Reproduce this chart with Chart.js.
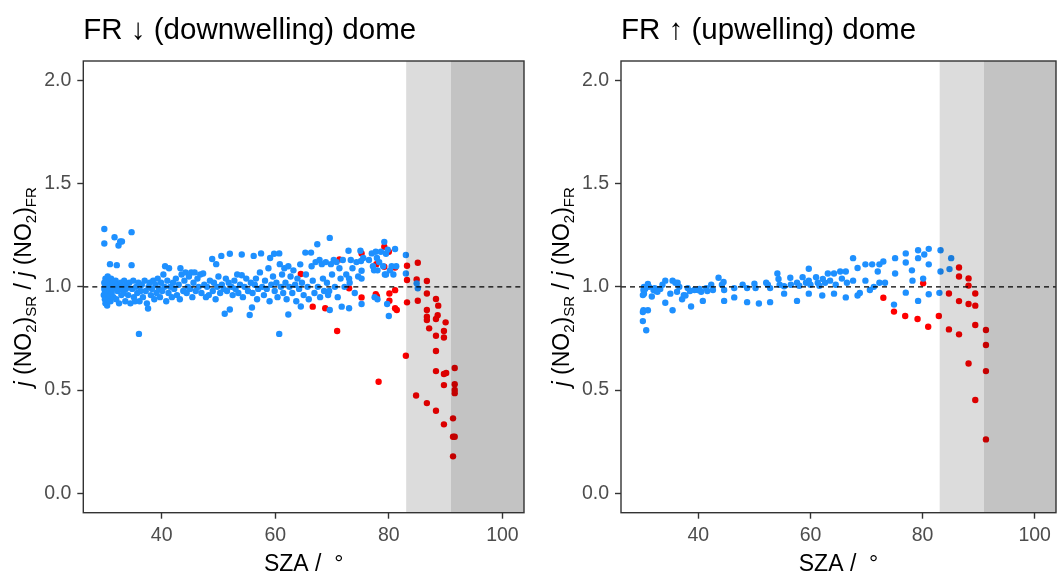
<!DOCTYPE html>
<html>
<head>
<meta charset="utf-8">
<script src="https://cdn.jsdelivr.net/npm/chart.js@4.4.1/dist/chart.umd.min.js"></script>
<style>
body { margin: 0; background: #fff; }
.panel { position: absolute; top: 0; width: 530px; height: 576px; }
</style>
</head>
<body>
<div class="panel" style="left:0"><canvas id="chart-down" width="530" height="576"></canvas></div>
<div class="panel" style="left:530px"><canvas id="chart-up" width="530" height="576"></canvas></div>
<script>
var xTicks = [40, 60, 80, 100];
var yTicks = [0, 0.5, 1.0, 1.5, 2.0];
var xRange = [26.2, 103.8];
var yRange = [-0.094, 2.094];
var shadeStart = [83.05, 90.95];   // SZA where light / dark grey bands start
var refLevel = 1;

var titles = ['FR \u2193 (downwelling) dome', 'FR \u2191 (upwelling) dome'];

// [SZA, ratio] pairs
var downBlue = [
  [29.9,1.28],[29.9,1.21],[29.8,0.96],[29.9,0.99],[29.9,1.02],[30.0,0.94],[30.0,0.97],[30.0,1.00],[30.1,1.04],[30.1,0.92],
  [30.2,0.98],[30.2,1.01],[30.3,0.95],[30.3,1.03],[30.4,0.99],[30.4,0.91],[30.5,0.97],[30.5,1.05],[30.6,1.00],[30.6,0.94],
  [30.7,1.02],[30.8,0.96],[30.9,1.11],[30.9,0.98],[31.0,1.01],[31.0,0.93],[31.1,1.04],[31.2,0.97],[31.3,0.99],[31.4,1.02],
  [31.5,0.95],[31.7,1.24],[31.8,1.00],[31.9,1.03],[32.0,0.94],[32.1,1.105],[32.2,0.98],[32.3,1.01],[32.4,1.20],[32.5,0.92],
  [32.6,0.99],[32.7,1.22],[32.8,1.02],[32.9,0.96],[33.0,1.22],[33.1,1.00],[33.3,0.97],[33.4,1.03],[33.6,0.93],[33.7,0.99],
  [33.9,1.01],[34.1,0.96],[34.3,1.02],[34.5,0.92],[34.7,1.265],[34.7,1.105],[34.8,0.99],[35.0,1.03],[35.1,0.95],[35.3,0.93],
  [35.5,1.00],[35.7,0.97],[35.9,1.02],[36.0,0.772],[36.1,0.93],[36.3,0.98],[36.5,1.01],[36.7,0.95],[37.0,1.03],[37.2,0.98],
  [37.4,0.92],[37.6,0.895],[37.7,1.00],[37.9,1.02],[38.1,0.96],[38.3,0.99],[38.5,1.03],[38.7,0.94],[38.9,1.01],[39.1,0.97],
  [39.3,1.04],[39.5,0.99],[39.7,0.95],[39.9,1.02],[40.1,0.98],[40.3,1.06],[40.5,1.00],[40.6,1.10],[40.8,0.93],[41.0,1.03],
  [41.2,0.97],[41.3,1.09],[41.5,1.00],[41.8,0.95],[42.0,1.02],[42.2,0.99],[42.5,1.04],[42.7,0.96],[43.0,1.01],[43.2,0.94],
  [43.3,1.09],[43.5,1.06],[43.8,0.98],[44.0,1.03],[44.2,1.07],[44.4,0.97],[44.6,1.00],[44.8,1.05],[45.0,0.99],[45.2,1.07],
  [45.4,0.95],[45.6,1.02],[45.8,1.07],[46.0,0.98],[46.3,1.04],[46.5,1.00],[46.8,1.06],[47.0,0.97],[47.3,1.065],[47.5,1.01],
  [47.8,0.95],[48.0,1.00],[48.3,0.96],[48.5,1.03],[48.9,1.135],[49.0,0.98],[49.2,1.02],[49.5,0.94],[49.6,1.11],[49.8,1.00],
  [50.0,1.05],[50.3,0.97],[50.5,1.15],[50.6,1.01],[50.9,0.99],[51.1,0.87],[51.3,1.04],[51.5,0.98],[51.8,1.02],[52.0,0.89],
  [52.0,1.16],[52.3,1.00],[52.5,0.96],[52.8,1.03],[53.0,0.99],[53.3,1.06],[53.5,0.97],[53.8,1.01],[54.1,1.157],[54.1,1.056],
  [54.3,0.95],[54.6,1.00],[54.9,1.04],[55.2,0.98],[55.5,0.864],[55.7,1.02],[55.9,0.90],[56.0,0.97],[56.2,1.15],[56.4,1.01],
  [56.6,1.04],[56.8,0.94],[57.0,0.99],[57.3,1.07],[57.5,1.162],[57.7,1.00],[58.0,0.96],[58.2,1.03],[58.5,0.99],[58.8,1.09],
  [59.0,0.93],[59.1,1.14],[59.3,1.01],[59.6,1.05],[59.8,1.16],[59.9,0.98],[60.2,1.02],[60.4,0.95],[60.7,1.162],[60.7,0.772],
  [60.8,1.11],[61.0,1.00],[61.2,1.06],[61.4,0.97],[61.6,1.09],[61.8,1.02],[62.0,0.94],[62.3,0.866],[62.3,1.10],[62.5,1.00],
  [62.7,1.05],[63.0,0.97],[63.2,1.08],[63.5,1.01],[63.7,0.93],[63.9,1.04],[64.2,0.99],[64.4,1.109],[64.5,0.905],[64.7,1.02],
  [65.0,0.96],[65.3,1.166],[65.4,1.06],[65.7,1.00],[65.9,0.94],[66.3,1.166],[66.4,1.10],[66.6,1.03],[66.9,0.97],[67.1,1.12],
  [67.4,1.206],[67.5,1.00],[67.8,1.13],[67.9,0.95],[68.2,1.11],[68.4,1.04],[68.6,0.98],[68.9,1.12],[69.1,1.02],[69.3,0.96],
  [69.5,0.98],[69.6,1.237],[69.6,0.888],[69.8,1.11],[70.0,1.06],[70.3,1.13],[70.5,1.00],[70.8,1.12],[71.0,0.95],[71.3,1.09],
  [71.5,1.04],[71.7,0.904],[71.9,1.13],[72.2,1.00],[72.5,1.06],[72.9,1.175],[73.0,0.896],[73.0,1.04],[73.1,1.02],[73.3,1.13],
  [73.6,1.09],[74.0,0.97],[74.3,1.12],[74.6,1.05],[75.0,1.175],[75.1,1.125],[75.2,1.078],[75.2,1.04],[75.2,0.917],[75.5,1.14],
  [76.5,1.13],[77.0,1.162],[77.2,1.10],[77.4,1.08],[77.5,0.95],[77.7,1.17],[77.9,1.14],[78.0,1.08],[78.0,0.94],[78.3,1.12],
  [78.6,1.17],[79.0,1.10],[79.2,1.218],[79.3,1.06],[79.5,1.16],[79.5,1.06],[79.7,0.917],[79.8,1.18],[80.0,0.859],[80.2,1.08],
  [80.5,1.10],[80.8,1.06],[81.1,1.183],[81.3,1.10],[83.0,1.154],[83.0,1.065],[84.9,1.017],[85.1,0.993]
];
var downRed = [
  [64.5,1.062],[66.6,0.904],[68.8,0.896],[70.9,0.786],[71.3,1.133],[73.0,0.993],[75.2,1.162],[75.2,0.949],[77.7,0.965],[77.9,0.955],
  [78.2,0.540],[77.8,1.11],[79.2,1.194],[79.2,1.097],[80.0,1.170],[80.1,0.968],[80.1,0.933],[81.1,1.094],[81.1,0.984],[81.1,0.896],
  [81.4,0.888],[83.0,0.666],[83.2,1.102],[83.2,1.033],[83.2,0.925],[85.1,1.117],[84.9,1.036],[85.1,0.933],[84.8,0.474],[86.7,1.028],
  [86.7,0.968],[86.7,0.888],[86.7,0.855],[86.7,0.839],[87.1,0.799],[86.7,0.437],[88.3,0.941],[88.7,0.909],[88.6,0.863],[88.3,0.844],
  [88.3,0.763],[88.3,0.689],[88.3,0.592],[88.3,0.400],[90.0,0.828],[89.7,0.786],[89.7,0.755],[89.7,0.578],[90.1,0.583],[89.7,0.524],
  [89.7,0.334],[91.6,0.607],[91.6,0.528],[91.6,0.500],[91.6,0.485],[91.3,0.363],[91.3,0.274],[91.6,0.274],[91.3,0.179]
];
var upBlue = [
  [30.1,0.834],[30.1,0.878],[30.2,0.887],[30.7,0.790],[31.0,0.887],[30.2,0.985],[30.3,0.967],[30.3,1.000],[30.1,0.960],[30.5,0.990],
  [31.0,1.014],[31.2,1.000],[31.7,0.953],[32.0,0.985],[32.2,0.994],[32.5,0.980],[32.7,0.976],[33.2,0.990],[33.6,1.010],[34.1,0.923],
  [34.1,1.030],[35.0,0.967],[35.4,0.887],[35.4,1.030],[35.9,1.020],[36.3,1.020],[36.6,1.000],[36.2,0.976],[37.1,0.940],[37.4,0.960],
  [37.7,0.958],[38.1,0.994],[38.5,0.980],[38.7,0.905],[39.3,0.985],[39.9,0.985],[40.5,0.976],[40.2,0.990],[40.8,0.932],[41.4,0.994],
  [41.6,0.980],[42.3,1.010],[42.6,0.985],[43.6,1.044],[44.2,1.010],[44.5,1.024],[44.6,0.932],[44.6,0.985],[46.4,0.994],[46.4,0.949],
  [47.9,1.010],[48.7,0.994],[48.7,0.926],[50.0,1.015],[50.2,0.994],[50.8,0.919],[52.1,1.020],[52.4,1.010],[52.8,0.994],[52.8,0.926],
  [54.1,1.065],[54.3,1.038],[54.5,1.010],[55.3,1.003],[55.3,0.967],[56.4,1.044],[56.5,1.010],[57.6,0.932],[57.6,1.020],[58.0,1.005],
  [58.6,1.047],[59.2,1.020],[59.7,1.088],[59.7,0.967],[59.7,1.030],[60.0,1.010],[61.0,1.047],[61.3,1.020],[61.6,1.005],[62.1,0.958],
  [62.2,1.038],[62.6,1.020],[63.1,1.065],[63.5,1.030],[64.2,0.967],[64.2,1.065],[64.5,1.010],[65.3,1.074],[65.6,1.040],[66.3,1.074],
  [66.3,0.949],[66.5,1.020],[67.6,1.139],[67.6,1.030],[68.4,1.091],[68.4,0.958],[68.8,0.970],[69.8,1.109],[69.8,1.030],[70.6,0.985],
  [71.0,1.109],[71.3,1.000],[72.0,1.074],[72.3,1.109],[72.3,1.020],[73.0,1.123],[73.3,1.020],[74.9,0.914],[75.1,1.139],[75.1,1.065],
  [77.0,1.162],[77.0,1.118],[77.0,0.972],[78.1,1.080],[78.2,1.030],[79.2,1.177],[79.2,1.139],[79.2,0.932],[80.3,1.157],[80.1,1.040],
  [81.1,1.184],[81.1,1.109],[81.1,0.964],[83.2,1.177],[83.2,1.074],[83.0,0.971],[85.1,1.139],[84.8,1.086]
];
var upRed = [
  [73.0,0.947],[74.9,0.880],[76.9,0.859],[79.1,0.844],[80.1,1.017],[81.0,0.807],[82.9,0.859],[84.7,0.968],[84.7,0.794],[86.5,1.094],
  [86.5,1.050],[86.5,0.931],[86.5,0.770],[88.2,1.041],[88.2,1.006],[88.2,0.917],[88.2,0.629],[89.4,0.968],[89.4,0.909],[89.4,0.815],
  [89.4,0.452],[91.3,0.791],[91.3,0.718],[91.3,0.592],[91.3,0.261]
];

var FONT = "'Liberation Sans', Arial, sans-serif";

function toPoints(pairs) {
    return pairs.map(p => ({ x: p[0], y: p[1] }));
}

// grey SZA bands over the points, dashed 1:1 line and the panel frame
var shadePlugin = {
    id: 'shade',
    afterDatasetsDraw(chart) {
        const ctx = chart.ctx, a = chart.chartArea;
        const xs = chart.scales.x, ys = chart.scales.y;
        ctx.save();
        ctx.beginPath();
        ctx.rect(a.left, a.top, a.width, a.height);
        ctx.clip();
        const x1 = xs.getPixelForValue(shadeStart[0]);
        const x2 = xs.getPixelForValue(shadeStart[1]);
        ctx.fillStyle = 'rgba(0,0,0,0.137)';
        ctx.fillRect(x1, a.top, a.right - x1, a.height);
        ctx.fillStyle = 'rgba(0,0,0,0.118)';
        ctx.fillRect(x2, a.top, a.right - x2, a.height);

        const yp = ys.getPixelForValue(refLevel);
        ctx.strokeStyle = '#000';
        ctx.lineWidth = 1.4;
        ctx.setLineDash([5, 4]);
        ctx.beginPath();
        ctx.moveTo(a.left, yp);
        ctx.lineTo(a.right, yp);
        ctx.stroke();
        ctx.restore();

        ctx.save();
        ctx.strokeStyle = '#333';
        ctx.lineWidth = 1.4;
        ctx.strokeRect(a.left, a.top, a.width, a.height);
        ctx.restore();
    }
};

// axis titles, the y one with italic j and subscripts
var axisTitlePlugin = {
    id: 'axisTitles',
    afterDraw(chart) {
        const ctx = chart.ctx, a = chart.chartArea;
        ctx.save();
        ctx.fillStyle = '#000';
        ctx.font = '23px ' + FONT;
        ctx.textAlign = 'center';
        ctx.textBaseline = 'alphabetic';
        ctx.fillText('SZA /  \u00b0', (a.left + a.right) / 2, 571);

        const parts = [
            ['j', 'italic 23px', 0], [' (NO', '23px', 0], ['2', '15px', 5], [')', '23px', 0], ['SR', '15px', 5],
            [' / ', '23px', 0],
            ['j', 'italic 23px', 0], [' (NO', '23px', 0], ['2', '15px', 5], [')', '23px', 0], ['FR', '15px', 5]
        ];
        let total = 0;
        parts.forEach(p => {
            ctx.font = p[1] + ' ' + FONT;
            p.push(ctx.measureText(p[0]).width);
            total += p[3];
        });
        ctx.translate(a.left - 52, (a.top + a.bottom) / 2);
        ctx.rotate(-Math.PI / 2);
        ctx.textAlign = 'left';
        let x = -total / 2;
        parts.forEach(p => {
            ctx.font = p[1] + ' ' + FONT;
            ctx.fillText(p[0], x, p[2]);
            x += p[3];
        });
        ctx.restore();
    }
};

function createPanel(canvasId, title, blue, red, axisWidth, rightPad) {
    const ctx = document.getElementById(canvasId).getContext('2d');
    return new Chart(ctx, {
        type: 'scatter',
        data: {
            datasets: [{
                label: 'blue',
                data: toPoints(blue),
                backgroundColor: '#1E90FF',
                borderWidth: 0,
                pointRadius: 3.2,
            }, {
                label: 'red',
                data: toPoints(red),
                backgroundColor: '#FF0000',
                borderWidth: 0,
                pointRadius: 3.2,
            }],
        },
        options: {
            responsive: false,
            animation: false,
            devicePixelRatio: 1,
            layout: { padding: { left: 0, right: rightPad, top: 0, bottom: 0 } },
            plugins: {
                legend: { display: false },
                tooltip: { enabled: false },
                title: {
                    display: true,
                    text: title,
                    align: 'start',
                    fullSize: false,
                    color: '#000',
                    font: { family: FONT, size: 29.5, weight: 'normal' },
                    padding: { top: 13, bottom: 12.6 },
                },
            },
            scales: {
                x: {
                    type: 'linear',
                    min: xRange[0],
                    max: xRange[1],
                    afterBuildTicks: s => { s.ticks = xTicks.map(v => ({ value: v })); },
                    afterFit: s => { s.height = 63.3; },
                    grid: { drawOnChartArea: false, drawTicks: true, tickLength: 6, tickColor: '#333', tickWidth: 1.4 },
                    border: { display: false },
                    ticks: {
                        color: '#4D4D4D',
                        padding: 5,
                        maxRotation: 0,
                        font: { family: FONT, size: 19.5 },
                        callback: v => String(v),
                    },
                },
                y: {
                    min: yRange[0],
                    max: yRange[1],
                    afterBuildTicks: s => { s.ticks = yTicks.map(v => ({ value: v })); },
                    afterFit: s => { s.width = axisWidth; },
                    grid: { drawOnChartArea: false, drawTicks: true, tickLength: 6, tickColor: '#333', tickWidth: 1.4 },
                    border: { display: false },
                    ticks: {
                        color: '#4D4D4D',
                        padding: 6,
                        font: { family: FONT, size: 19.5 },
                        callback: v => v.toFixed(1),
                    },
                },
            },
        },
        plugins: [shadePlugin, axisTitlePlugin],
    });
}

createPanel('chart-down', titles[0], downBlue, downRed, 83.3, 6);
createPanel('chart-up', titles[1], upBlue, upRed, 91, 1);
</script>
</body>
</html>
